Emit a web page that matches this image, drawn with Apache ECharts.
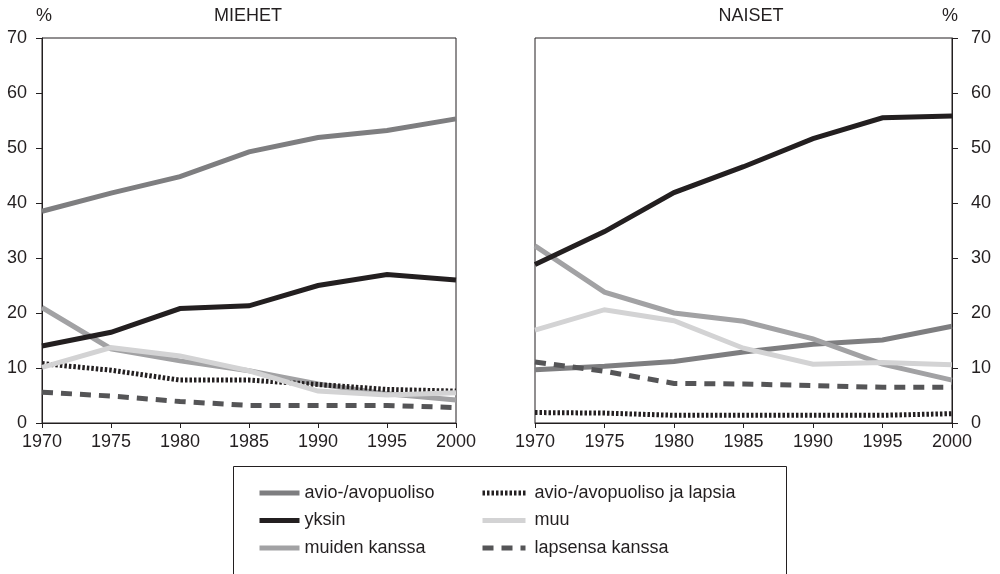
<!DOCTYPE html>
<html>
<head>
<meta charset="utf-8">
<script src="https://cdn.jsdelivr.net/npm/echarts@6/dist/echarts.min.js"></script>
<style>
  html, body { margin: 0; padding: 0; background: #fff; }
  #chart { width: 1000px; height: 574px; }
</style>
</head>
<body>
<div id="chart"></div>
<script>
// vuodet
const years = [1970, 1975, 1980, 1985, 1990, 1995, 2000]
const yTicks = [0, 10, 20, 30, 40, 50, 60, 70]

// MIEHET
const menAvio = [38.5, 41.8, 44.8, 49.3, 51.9, 53.2, 55.3]
const menYksin = [14.0, 16.5, 20.8, 21.3, 25.0, 27.0, 26.0]
const menMuiden = [21.0, 13.5, 11.3, 9.5, 7.1, 5.3, 4.2]
const menAvioLapsia = [10.8, 9.6, 7.8, 7.8, 7.0, 6.1, 5.8]
const menMuu = [10.1, 13.7, 12.2, 9.5, 5.8, 5.1, 5.5]
const menLapsensa = [5.6, 4.9, 3.9, 3.2, 3.2, 3.2, 2.8]

// NAISET
const womenAvio = [9.7, 10.3, 11.2, 12.9, 14.3, 15.1, 17.6]
const womenYksin = [28.8, 34.8, 41.9, 46.6, 51.7, 55.5, 55.8]
const womenMuiden = [32.2, 23.8, 20.0, 18.5, 15.3, 10.7, 7.8]
const womenAvioLapsia = [1.9, 1.8, 1.4, 1.4, 1.4, 1.4, 1.7]
const womenMuu = [16.9, 20.6, 18.6, 13.6, 10.7, 11.0, 10.6]
const womenLapsensa = [11.1, 9.4, 7.2, 7.1, 6.8, 6.5, 6.5]

const names = ['avio-/avopuoliso', 'yksin', 'muiden kanssa', 'avio-/avopuoliso ja lapsia', 'muu', 'lapsensa kanssa']

const ink = '#231f20'
const font = '"Liberation Sans", Arial, sans-serif'

// tyylit sarjoittain
const styles = [
  { color: '#7e7e80', type: 'solid' },
  { color: '#231f20', type: 'solid' },
  { color: '#a2a2a4', type: 'solid' },
  { color: '#231f20', type: [2.5, 2] },
  { color: '#d3d3d4', type: 'solid' },
  { color: '#555557', type: [11, 8] },
]

function pairs(vals) {
  return years.map((y, i) => [y, vals[i]])
}

function makeSeries(list, idx) {
  return list.map((vals, i) => ({
    name: names[i],
    type: 'line',
    xAxisIndex: idx,
    yAxisIndex: idx,
    symbol: 'none',
    data: pairs(vals),
    color: styles[i].color,
    lineStyle: { width: 5, color: styles[i].color, type: styles[i].type, cap: 'butt', join: 'miter' },
    silent: true,
    z: i === 1 ? 3 : 2,
  }))
}

const xAxisBase = {
  type: 'value',
  min: 1970,
  max: 2000,
  interval: 5,
  axisLine: { lineStyle: { color: ink, width: 1 } },
  axisTick: { show: true, length: 5, lineStyle: { color: ink } },
  axisLabel: { color: ink, fontSize: 18, fontFamily: font, margin: 10, formatter: (v) => String(v) },
  splitLine: { show: false },
}

const yAxisBase = {
  type: 'value',
  min: 0,
  max: 70,
  interval: 10,
  axisLine: { show: true, lineStyle: { color: ink, width: 1 } },
  axisTick: { show: true, length: 6, lineStyle: { color: ink } },
  axisLabel: { color: ink, fontSize: 18, fontFamily: font },
  splitLine: { show: false },
}

const legendBase = {
  orient: 'vertical',
  top: 478,
  itemHeight: 20,
  itemGap: 7.5,
  selectedMode: false,
  itemStyle: { opacity: 0 },
  lineStyle: { width: 5 },
  textStyle: { color: ink, fontSize: 18, fontFamily: font, lineHeight: 20 },
}

const titleStyle = { fontSize: 18, fontWeight: 'normal', color: ink, fontFamily: font }

let myEcharts = echarts.init(document.getElementById('chart'), null, { renderer: 'canvas' })

let option = {
  animation: false,
  backgroundColor: '#fff',
  title: [
    { text: 'MIEHET', left: 248, top: 7, padding: 0, textAlign: 'center', textStyle: titleStyle },
    { text: 'NAISET', left: 751, top: 7, padding: 0, textAlign: 'center', textStyle: titleStyle },
    { text: '%', left: 44, top: 7, padding: 0, textAlign: 'center', textStyle: titleStyle },
    { text: '%', left: 950, top: 7, padding: 0, textAlign: 'center', textStyle: titleStyle },
  ],
  grid: [
    { left: 42, right: 544, top: 38, bottom: 151, show: true, borderColor: ink, borderWidth: 1, backgroundColor: 'transparent' },
    { left: 535, right: 48, top: 38, bottom: 151, show: true, borderColor: ink, borderWidth: 1, backgroundColor: 'transparent' },
  ],
  xAxis: [
    Object.assign({}, xAxisBase, { gridIndex: 0 }),
    Object.assign({}, xAxisBase, { gridIndex: 1 }),
  ],
  yAxis: [
    Object.assign({}, yAxisBase, { gridIndex: 0, position: 'left', axisLabel: Object.assign({}, yAxisBase.axisLabel, { margin: 15 }) }),
    Object.assign({}, yAxisBase, { gridIndex: 1, position: 'right', axisLabel: Object.assign({}, yAxisBase.axisLabel, { margin: 19 }) }),
  ],
  legend: [
    Object.assign({}, legendBase, {
      left: 252,
      itemWidth: 40,
      data: names.slice(0, 3),
    }),
    Object.assign({}, legendBase, {
      left: 475,
      itemWidth: 43,
      data: names.slice(3),
      textStyle: Object.assign({}, legendBase.textStyle, { padding: [0, 0, 0, 4] }),
    }),
  ],
  graphic: [
    {
      type: 'rect',
      shape: { x: 233.5, y: 466.5, width: 553, height: 140 },
      style: { fill: 'none', stroke: ink, lineWidth: 1 },
      silent: true,
      z: 0,
    },
  ],
  series: [].concat(
    makeSeries([menAvio, menYksin, menMuiden, menAvioLapsia, menMuu, menLapsensa], 0),
    makeSeries([womenAvio, womenYksin, womenMuiden, womenAvioLapsia, womenMuu, womenLapsensa], 1)
  ),
}

option && myEcharts.setOption(option)
</script>
</body>
</html>
